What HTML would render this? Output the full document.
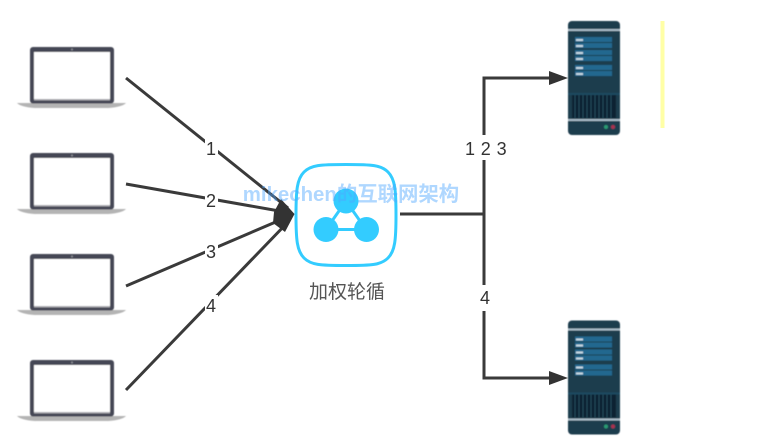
<!DOCTYPE html>
<html><head><meta charset="utf-8">
<style>html,body{margin:0;padding:0;background:#fff;width:760px;height:443px;overflow:hidden}svg{display:block}</style>
</head><body>
<svg width="760" height="443" viewBox="0 0 760 443" xmlns="http://www.w3.org/2000/svg">
<defs>
<filter id="soft" x="-5%" y="-5%" width="110%" height="110%"><feGaussianBlur stdDeviation="0.4"/></filter>
<g id="laptop">
  <path d="M17 103H126Q122 107 108 108H35Q21 107 17 103Z" fill="#b4b4b4"/>
  <rect x="30" y="47" width="84" height="56.500" rx="3" fill="#454754"/>
  <rect x="34" y="52" width="76" height="47" fill="#fff"/>
  <rect x="34" y="99" width="76" height="1.500" fill="#a8a9af"/>
  <circle cx="72" cy="49.500" r="1" fill="#8d8e96"/>
</g>
<g id="server">
  <rect x="568" y="21" width="52" height="114" rx="4" fill="#1f3c4e"/>
  <rect x="568" y="29" width="52" height="2" fill="#a9bcc8"/>
  <rect x="568" y="119" width="52" height="2" fill="#a9bcc8"/>
  <rect x="575" y="37" width="37" height="5" fill="#24688f"/>
  <rect x="575" y="43" width="37" height="5" fill="#24688f"/>
  <rect x="575" y="50" width="37" height="5" fill="#24688f"/>
  <rect x="575" y="56" width="37" height="5" fill="#24688f"/>
  <rect x="575" y="65" width="37" height="5" fill="#24688f"/>
  <rect x="575" y="71" width="37" height="5" fill="#24688f"/>
  <g fill="#c5d8e3">
    <rect x="576" y="39" width="7" height="2"/><rect x="576" y="45" width="7" height="2"/>
    <rect x="576" y="52" width="7" height="2"/><rect x="576" y="58" width="7" height="2"/>
    <rect x="576" y="67" width="7" height="2"/><rect x="576" y="73" width="7" height="2"/>
  </g>
  <rect x="568" y="93" width="52" height="2" fill="#1b4a60"/>
  <rect x="572" y="95" width="44" height="23" fill="#0e2333"/>
  <path d="M575 95V118M579 95V118M583 95V118M587 95V118M591 95V118M595 95V118M599 95V118M603 95V118M607 95V118M611 95V118" stroke="#24465a" stroke-width="1.200"/>
  <circle cx="606" cy="127" r="2" fill="#2a9a72"/>
  <circle cx="613" cy="127" r="2" fill="#a8324f"/>
</g>
</defs>
<g filter="url(#soft)">
<use href="#laptop"/>
<use href="#laptop" y="106"/>
<use href="#laptop" y="207"/>
<use href="#laptop" y="313"/>
<use href="#server"/>
<use href="#server" y="299.500"/>
</g>
<rect x="660.500" y="21" width="4" height="107" fill="#ffffa6"/>
<g stroke="#3a3a3a" stroke-width="3" fill="none">
  <path d="M126 78L288 208"/>
  <path d="M126 184L285 212"/>
  <path d="M126 286L285 218"/>
  <path d="M126 390L288 222"/>
  <path d="M400 214H484M484 214V78H552M484 214V378H552"/>
</g>
<g fill="#333">
  <path d="M294.500 214L281 199L274 212L273 223L285 232Z"/>
  <path d="M568 78L549 71V85Z"/>
  <path d="M568 378L549 371V385Z"/>
</g>
<g fill="#fff">
  <rect x="205" y="138" width="13" height="21"/>
  <rect x="205" y="190" width="13" height="21"/>
  <rect x="205" y="241" width="13" height="21"/>
  <rect x="205" y="295" width="13" height="21"/>
  <rect x="462" y="135" width="48" height="25"/>
  <rect x="477" y="285" width="15" height="26"/>
</g>
<g font-family="'Liberation Sans',sans-serif" font-size="18" fill="#333" text-anchor="middle">
  <text x="211" y="155">1</text>
  <text x="211" y="207">2</text>
  <text x="211" y="258">3</text>
  <text x="211" y="312">4</text>
  <text x="486" y="155" letter-spacing=".4">1 2 3</text>
  <text x="485" y="304">4</text>
</g>
<path d="M346 164.500C372 164.500 381 165 388 172C395 179 396 190 396 215C396 240 395 251 388 258C381 265 372 265.500 346 265.500C320 265.500 311 265 304 258C297 251 296 240 296 215C296 190 297 179 304 172C311 165 320 164.500 346 164.500Z" fill="#fff" stroke="#33ccff" stroke-width="3"/>
<path d="M346 201L326 229.500H366Z" fill="none" stroke="#33ccff" stroke-width="3"/>
<circle cx="346" cy="201" r="12.500" fill="#33ccff"/>
<circle cx="326" cy="229.500" r="12.500" fill="#33ccff"/>
<circle cx="366.500" cy="229.500" r="12.500" fill="#33ccff"/>
<text x="347" y="298" font-family="'Liberation Sans','Noto Sans CJK SC',sans-serif" font-size="19" fill="#555" text-anchor="middle">加权轮循</text>
<text x="351" y="201" font-family="'Liberation Sans','Noto Sans CJK SC',sans-serif" font-size="20.400" font-weight="bold" fill="#4da6ff" fill-opacity=".45" text-anchor="middle">mikechen的互联网架构</text>
</svg>
</body></html>
